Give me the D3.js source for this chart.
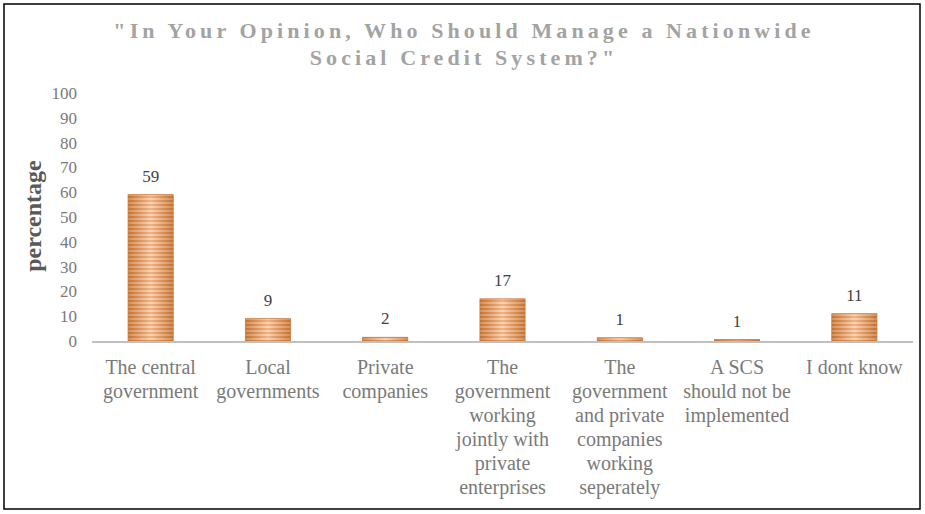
<!DOCTYPE html>
<html><head><meta charset="utf-8">
<script src="https://cdn.jsdelivr.net/npm/d3@7"></script>
<style>body{margin:0;background:#fff}svg{display:block}</style>
</head><body>
<script>
const categories = [
  ["The central","government"],
  ["Local","governments"],
  ["Private","companies"],
  ["The","government","working","jointly with","private","enterprises"],
  ["The","government","and private","companies","working","seperately"],
  ["A SCS","should not be","implemented"],
  ["I dont know"]
];
const values = [59, 9, 1.5, 17, 1.3, 0.6, 11];
const valueLabels = ["59","9","2","17","1","1","11"];
const yTicks = [0,10,20,30,40,50,60,70,80,90,100];
const titleLines = ["\"In Your Opinion, Who Should Manage a Nationwide","Social Credit System?\""];
const yTitle = "percentage";

const FONT = "'Liberation Serif', 'Times New Roman', Times, serif";
const W = 925, H = 514;
const svg = d3.select("body").append("svg").attr("width", W).attr("height", H);
const defs = svg.append("defs");
const pat = defs.append("pattern").attr("id","stripes").attr("patternUnits","userSpaceOnUse")
  .attr("width",10).attr("height",4);
pat.append("rect").attr("width",10).attr("height",4).attr("fill","#f9b57c");
pat.append("rect").attr("width",10).attr("height",2).attr("fill","#e47f34");
const grad = defs.append("linearGradient").attr("id","shade").attr("x1","0").attr("x2","1").attr("y1","0").attr("y2","0");
grad.append("stop").attr("offset","0").attr("stop-color","#9a5a2a").attr("stop-opacity",0.4);
grad.append("stop").attr("offset","0.5").attr("stop-color","#ffffff").attr("stop-opacity",0.4);
grad.append("stop").attr("offset","1").attr("stop-color","#9a5a2a").attr("stop-opacity",0.4);

svg.append("rect").attr("x",4).attr("y",4).attr("width",W-9).attr("height",H-9)
  .attr("fill","#fff").attr("stroke","#000").attr("stroke-width",1.5);

const x = d3.scaleBand().domain(d3.range(categories.length)).range([92, 913]).paddingInner(0.615).paddingOuter(0.3075);
const y = d3.scaleLinear().domain([0,100]).range([341, 93]);

const title = svg.append("text").attr("text-anchor","middle")
  .style("font-family",FONT)
  .attr("font-weight","bold").attr("font-size",22).attr("letter-spacing",4.1).attr("fill","#a3a3a3");
titleLines.forEach((t,i)=>title.append("tspan").attr("x",464).attr("y",38+i*27).text(t));

const yAxis = svg.append("g").attr("transform","translate(77,0)")
  .call(d3.axisLeft(y).tickValues(yTicks).tickSize(0).tickPadding(0));
yAxis.select(".domain").remove();
yAxis.selectAll("text").style("font-family",FONT).attr("font-size",17).attr("fill","#7a7a7a").attr("dy","0.32em");

svg.append("text").attr("transform","translate(41,216) rotate(-90)").attr("text-anchor","middle")
  .style("font-family",FONT).attr("font-weight","bold").attr("font-size",24).attr("fill","#595959")
  .text(yTitle);

const bars = svg.append("g");
values.forEach((v,i)=>{
  const bx = x(i), bw = x.bandwidth(), by = y(v), bh = y(0)-y(v);
  bars.append("rect").attr("x",bx).attr("y",by).attr("width",bw).attr("height",bh).attr("fill","url(#stripes)");
  bars.append("rect").attr("x",bx).attr("y",by).attr("width",bw).attr("height",bh).attr("fill","url(#shade)")
    .attr("stroke","#c97a3f").attr("stroke-width",0.8);
  svg.append("text").attr("x",bx+bw/2).attr("y",by-13).attr("text-anchor","middle")
    .style("font-family",FONT).attr("font-size",17).attr("fill","#404040").text(valueLabels[i]);
});

svg.append("line").attr("x1",92).attr("x2",913).attr("y1",y(0)+1).attr("y2",y(0)+1)
  .attr("stroke","#c0c0c0").attr("stroke-width",2);

const xAxis = svg.append("g").attr("transform","translate(0,"+(y(0)+1)+")")
  .call(d3.axisBottom(x).tickSize(0).tickFormat(""));
xAxis.select(".domain").remove();
xAxis.selectAll(".tick").each(function(d){
  const t = d3.select(this).append("text").attr("text-anchor","middle")
    .style("font-family",FONT).attr("font-size",20).attr("fill","#7a7a7a");
  categories[d].forEach((line,j)=>t.append("tspan").attr("x",0).attr("y",32+j*24).text(line));
});
</script>
</body></html>
